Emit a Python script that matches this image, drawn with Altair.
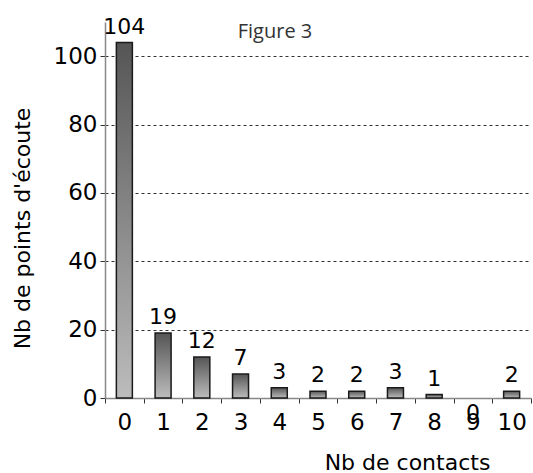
import altair as alt
import pandas as pd

categories = ["0", "1", "2", "3", "4", "5", "6", "7", "8", "9", "10"]
counts = [104, 19, 12, 7, 3, 2, 2, 3, 1, 0, 2]
y_ticks = [0, 20, 40, 60, 80, 100]

df = pd.DataFrame({"cat": categories, "v": counts})

FONT = "DejaVu Sans"

x_enc = alt.X(
    "cat:N",
    sort=categories,
    scale=alt.Scale(paddingInner=0, paddingOuter=0),
    axis=alt.Axis(
        title="Nb de contacts",
        labelAngle=0,
        labelPadding=8,
        labelFont=FONT,
        labelFontSize=23,
        tickBand="extent",
        grid=False,
        titleX=302,
        titleY=71,
        titleBaseline="alphabetic",
        titleAlign="center",
    ),
)

y_enc = alt.Y(
    "v:Q",
    scale=alt.Scale(domain=[0, 110], nice=False),
    axis=alt.Axis(
        title="Nb de points d'écoute",
        values=y_ticks,
        labelPadding=3,
        labelFont=FONT,
        labelFontSize=23,
        grid=True,
        gridColor="#333333",
        gridDash=[3, 3],
        gridWidth=1,
        titleX=-76,
        titleY=206,
        titleBaseline="alphabetic",
        titleAngle=-90,
        titleAlign="center",
    ),
)

grad = alt.LinearGradient(
    gradient="linear",
    x1=0, y1=0, x2=0, y2=1,
    stops=[
        alt.GradientStop(color="#555555", offset=0),
        alt.GradientStop(color="#bcbcbc", offset=1),
    ],
)

base = alt.Chart(df).encode(x=x_enc, y=y_enc)

bars = base.mark_bar(
    size=16, color=grad, stroke="#1a1a1a", strokeWidth=1.5
).transform_filter("datum.v > 0")

labels = base.mark_text(
    font=FONT, fontSize=22, color="black", baseline="alphabetic", dy=-9
).encode(text="v:Q").transform_filter("datum.v > 0")

zero_labels = base.mark_text(
    font=FONT, fontSize=22, color="black", baseline="alphabetic", dy=22
).encode(text="v:Q").transform_filter("datum.v == 0")

chart = (
    alt.layer(bars, labels, zero_labels)
    .properties(
        width=426,
        height=376,
        autosize="none",
        padding={"left": 105, "top": 22, "right": 2, "bottom": 75},
        title=alt.TitleParams(
            "Figure 3",
            font="Open Sans",
            fontSize=20,
            fontWeight="normal",
            color="#333333",
            anchor="middle",
            frame="group",
            baseline="alphabetic",
            offset=-24,
            dx=-43,
            dy=18,
        ),
    )
    .configure_view(stroke=None)
    .configure_axis(
        labelColor="black",
        tickSize=5,
        tickColor="#333333",
        domainColor="#888888",
        domainWidth=1.5,
        titleFont=FONT,
        titleFontSize=22,
        titleFontWeight="normal",
        titleColor="black",
    )
)

chart.save("out.html", embed_options={"renderer": "svg", "actions": False})
